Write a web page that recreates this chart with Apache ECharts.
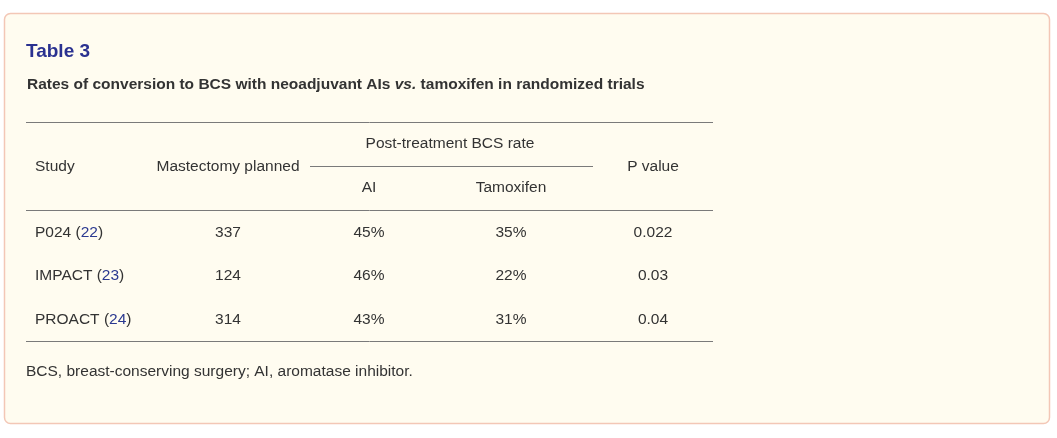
<!DOCTYPE html>
<html>
<head>
<meta charset="utf-8">
<script src="https://cdn.jsdelivr.net/npm/echarts@6/dist/echarts.min.js"></script>
<style>
  html, body { margin: 0; padding: 0; background: #ffffff; }
  #main { width: 1057px; height: 438px; }
</style>
</head>
<body>
<div id="main"></div>
<script>
// --- table data ---
var studies = ['P024', 'IMPACT', 'PROACT'];
var refs = ['22', '23', '24'];
var mastectomy = ['337', '124', '314'];
var bcsAI = ['45%', '46%', '43%'];
var bcsTamoxifen = ['35%', '22%', '31%'];
var pValues = ['0.022', '0.03', '0.04'];

var titleText = 'Table 3';
var subtitleText = 'Rates of conversion to BCS with neoadjuvant AIs {i|vs.} tamoxifen in randomized trials';
var footnoteText = 'BCS, breast-conserving surgery; AI, aromatase inhibitor.';

var chart = echarts.init(document.getElementById('main'), null, { renderer: 'canvas' });

var FONT = '"Liberation Sans", Arial, Helvetica, sans-serif';
var SIZE = 15.5;
var TEXT = '#333333';
var LINK = '#2b3990';
var RULE = '#7a7a7a';

// column centres / left edge
var colStudy = 35;
var colMast = 228;
var colAI = 369;
var colTam = 511;
var colP = 653;
var rowY = [233, 276, 320];

function txt(x, y, s, align, extra) {
    var st = {
        x: x, y: y, text: s,
        fill: TEXT, font: SIZE + 'px ' + FONT,
        align: align || 'center', verticalAlign: 'middle'
    };
    if (extra) { for (var k in extra) st[k] = extra[k]; }
    return { type: 'text', style: st, z: 10 };
}

function hline(x1, x2, y) {
    return {
        type: 'line',
        shape: { x1: x1, y1: y, x2: x2, y2: y },
        style: { stroke: RULE, lineWidth: 1 },
        z: 5
    };
}

var elements = [];

// card background
elements.push({
    type: 'rect',
    shape: { x: 4.5, y: 13.5, width: 1045, height: 410, r: 6 },
    style: { fill: '#fffcf0', stroke: '#f3c7b6', lineWidth: 1.5 },
    z: 0
});

// title + caption
elements.push(txt(26, 52, titleText, 'left', {
    fill: '#2a3190', font: 'bold 19px ' + FONT
}));
elements.push({
    type: 'text', z: 10,
    style: {
        x: 27, y: 85, text: subtitleText, align: 'left', verticalAlign: 'middle',
        fill: TEXT, font: 'bold ' + SIZE + 'px ' + FONT,
        rich: { i: { fontStyle: 'italic', fontWeight: 'bold', fontSize: SIZE, fontFamily: FONT, fill: TEXT } }
    }
});

// rules
elements.push(hline(26, 713, 122.5));
elements.push(hline(310, 593, 166.5));
elements.push(hline(26, 713, 210.5));
elements.push(hline(26, 713, 341.5));

// header
elements.push(txt(450, 144, 'Post-treatment BCS rate'));
elements.push(txt(colStudy, 167, 'Study', 'left'));
elements.push(txt(colMast, 167, 'Mastectomy planned'));
elements.push(txt(colP, 167, 'P value'));
elements.push(txt(colAI, 188, 'AI'));
elements.push(txt(colTam, 188, 'Tamoxifen'));

// body rows
studies.forEach(function (name, i) {
    var y = rowY[i];
    elements.push({
        type: 'text', z: 10,
        style: {
            x: colStudy, y: y, align: 'left', verticalAlign: 'middle',
            text: '{n|' + name + ' (}{r|' + refs[i] + '}{n|)}',
            font: SIZE + 'px ' + FONT,
            rich: {
                n: { fill: TEXT, fontSize: SIZE, fontFamily: FONT },
                r: { fill: LINK, fontSize: SIZE, fontFamily: FONT }
            }
        }
    });
    elements.push(txt(colMast, y, mastectomy[i]));
    elements.push(txt(colAI, y, bcsAI[i]));
    elements.push(txt(colTam, y, bcsTamoxifen[i]));
    elements.push(txt(colP, y, pValues[i]));
});

// footnote
elements.push(txt(26, 372, footnoteText, 'left'));

var option = {
    backgroundColor: '#ffffff',
    animation: false,
    graphic: { elements: elements }
};

option && chart.setOption(option);

window.addEventListener('resize', function () { chart.resize(); });
</script>
</body>
</html>
